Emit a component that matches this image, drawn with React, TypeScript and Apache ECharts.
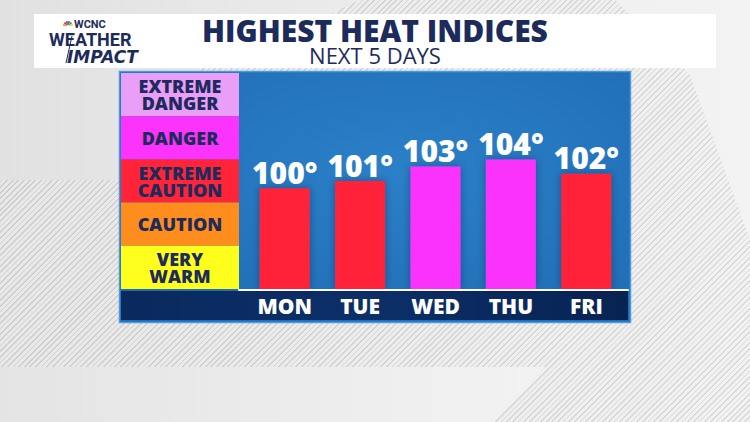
import React, { useRef, useEffect } from 'react';
import * as echarts from 'echarts';

// values
const days = ['MON', 'TUE', 'WED', 'THU', 'FRI'];
const heatIndex = [100, 101, 103, 104, 102];
const bands = ['EXTREME\nDANGER', 'DANGER', 'EXTREME\nCAUTION', 'CAUTION', 'VERY\nWARM'];
const bandSpan = [1, 1, 1, 1, 1];

const barColors = ['#ff2238', '#ff2238', '#fb33fb', '#fb33fb', '#ff2238'];
const bandColors = ['#e99ff7', '#fc33fc', '#ff2438', '#fe8d1d', '#ffff1d'];

const NAVY = '#1c2b5c';
const FONT = '"Open Sans", "Noto Sans", sans-serif';

const App: React.FC = () => {
  const chartRef = useRef<HTMLDivElement>(null);

  useEffect(() => {
    if (!chartRef.current) return;
    const chart = echarts.init(chartRef.current, null, { renderer: 'svg' });

    // little peacock in front of the station name
    const peacock = ['#f5a11c', '#e8362c', '#6b3b97', '#1f7fc3', '#1aa64a', '#f7d117'].map((c, i) => ({
      type: 'sector',
      shape: { cx: 68, cy: 26, r0: 1, r: 5, startAngle: Math.PI + i * (Math.PI / 6), endAngle: Math.PI + (i + 1) * (Math.PI / 6) - 0.08 },
      style: { fill: c },
      z: 12
    }));

    const option = {
      animation: false,
      textStyle: { fontFamily: FONT },
      graphic: [
        // header banner
        { type: 'rect', shape: { x: 34, y: 14, width: 682, height: 54 }, style: { fill: '#ffffff' }, z: 10 },
        ...peacock,
        { type: 'text', x: 74, y: 24.5, style: { text: 'WCNC', fill: NAVY, font: 'bold 11px Roboto', verticalAlign: 'middle' }, z: 12 },
        { type: 'text', x: 49, y: 39.5, style: { text: 'WEATHER', fill: NAVY, font: 'bold 18px Roboto', verticalAlign: 'middle' }, z: 12 },
        { type: 'text', x: 67, y: 57, style: { text: 'IMPACT', fill: NAVY, font: 'italic bold 17px "DejaVu Sans"', verticalAlign: 'middle' }, z: 12 },
        { type: 'line', shape: { x1: 72, y1: 36, x2: 66, y2: 63 }, style: { stroke: NAVY, lineWidth: 1 }, z: 12 },
        { type: 'text', x: 375, y: 30, style: { text: 'HIGHEST HEAT INDICES', fill: NAVY, font: `800 30px ${FONT}`, align: 'center', verticalAlign: 'middle' }, z: 12 },
        { type: 'text', x: 375, y: 55, style: { text: 'NEXT 5 DAYS', fill: NAVY, font: `22px ${FONT}`, align: 'center', verticalAlign: 'middle' }, z: 12 },
        // blue panel
        {
          type: 'rect',
          shape: { x: 119.5, y: 71.5, width: 511, height: 251 },
          style: {
            fill: new echarts.graphic.RadialGradient(0.55, 0.4, 0.7, [
              { offset: 0, color: '#2b80c8' },
              { offset: 1, color: '#1f6db6' }
            ]),
            stroke: '#4b9de0',
            lineWidth: 1.5
          },
          z: -2
        },
        // axis strip
        {
          type: 'rect',
          shape: { x: 121, y: 291, width: 507, height: 29 },
          style: {
            fill: new echarts.graphic.LinearGradient(0, 0, 1, 0, [
              { offset: 0, color: '#0a2a5e' },
              { offset: 0.5, color: '#0c2f68' },
              { offset: 1, color: '#072352' }
            ])
          },
          z: -1
        },
        { type: 'line', shape: { x1: 239, y1: 290, x2: 628, y2: 290 }, style: { stroke: '#ffffff', lineWidth: 2, lineCap: 'round' }, z: 5 }
      ],
      grid: [
        { left: 247, top: 73, width: 377, height: 216, outerBoundsMode: 'none' },
        { left: 121, top: 73, width: 118, height: 216, outerBoundsMode: 'none' }
      ],
      xAxis: [
        {
          type: 'category',
          gridIndex: 0,
          data: days,
          axisLine: { show: false },
          axisTick: { show: false },
          axisLabel: { color: '#ffffff', fontSize: 21, fontWeight: 800, fontFamily: FONT, margin: 6 }
        },
        { type: 'value', gridIndex: 1, min: 0, max: 1, show: false }
      ],
      yAxis: [
        { type: 'value', gridIndex: 0, min: 86, max: 116, show: false },
        { type: 'category', gridIndex: 1, data: bands, inverse: true, show: false }
      ],
      series: [
        {
          type: 'bar',
          xAxisIndex: 0,
          yAxisIndex: 0,
          data: heatIndex,
          barWidth: 50,
          itemStyle: {
            color: (p: any) => barColors[p.dataIndex],
            shadowBlur: 8,
            shadowColor: 'rgba(0,20,60,0.35)'
          },
          label: {
            show: true,
            position: 'top',
            distance: 1,
            formatter: '{c}°',
            color: '#ffffff',
            fontSize: 30,
            fontWeight: 800,
            fontFamily: FONT
          }
        },
        {
          type: 'bar',
          xAxisIndex: 1,
          yAxisIndex: 1,
          data: bandSpan,
          barCategoryGap: 0,
          itemStyle: { color: (p: any) => bandColors[p.dataIndex] },
          label: {
            show: true,
            position: 'inside',
            formatter: '{b}',
            color: NAVY,
            fontSize: 18,
            fontWeight: 800,
            lineHeight: 17,
            fontFamily: FONT
          }
        }
      ]
    };

    chart.setOption(option);
    return () => {
      chart.dispose();
    };
  }, []);

  const hatch = 'repeating-linear-gradient(135deg, rgba(0,0,0,0.08) 0px, rgba(0,0,0,0.08) 1.2px, rgba(255,255,255,0.3) 1.2px, rgba(255,255,255,0.3) 4px)';

  return (
    <div style={{ position: 'fixed', left: 0, top: 0, width: 750, height: 422, overflow: 'hidden', background: 'linear-gradient(90deg, #e1e1e1, #eeeeee 60%, #f3f3f3)' }}>
      <div
        style={{
          position: 'absolute', inset: 0,
          background: `${hatch}, linear-gradient(90deg, #dedede, #ececec)`,
          clipPath: 'polygon(0px 180px, 200px 180px, 200px 68px, 330px 14px, 360px 0px, 615px 0px, 690px 75px, 750px 240px, 750px 422px, 493px 422px, 545px 367px, 0px 367px)'
        }}
      />
      <div
        style={{
          position: 'absolute', left: 0, top: 367, width: 750, height: 55,
          background: 'linear-gradient(90deg, #e4e4e4, #f2f2f2 70%, #efefef)',
          clipPath: 'polygon(0px 0px, 545px 0px, 493px 55px, 0px 55px)'
        }}
      />
      <div ref={chartRef} style={{ position: 'absolute', left: 0, top: 0, width: 750, height: 422 }} />
    </div>
  );
};

export default App;
